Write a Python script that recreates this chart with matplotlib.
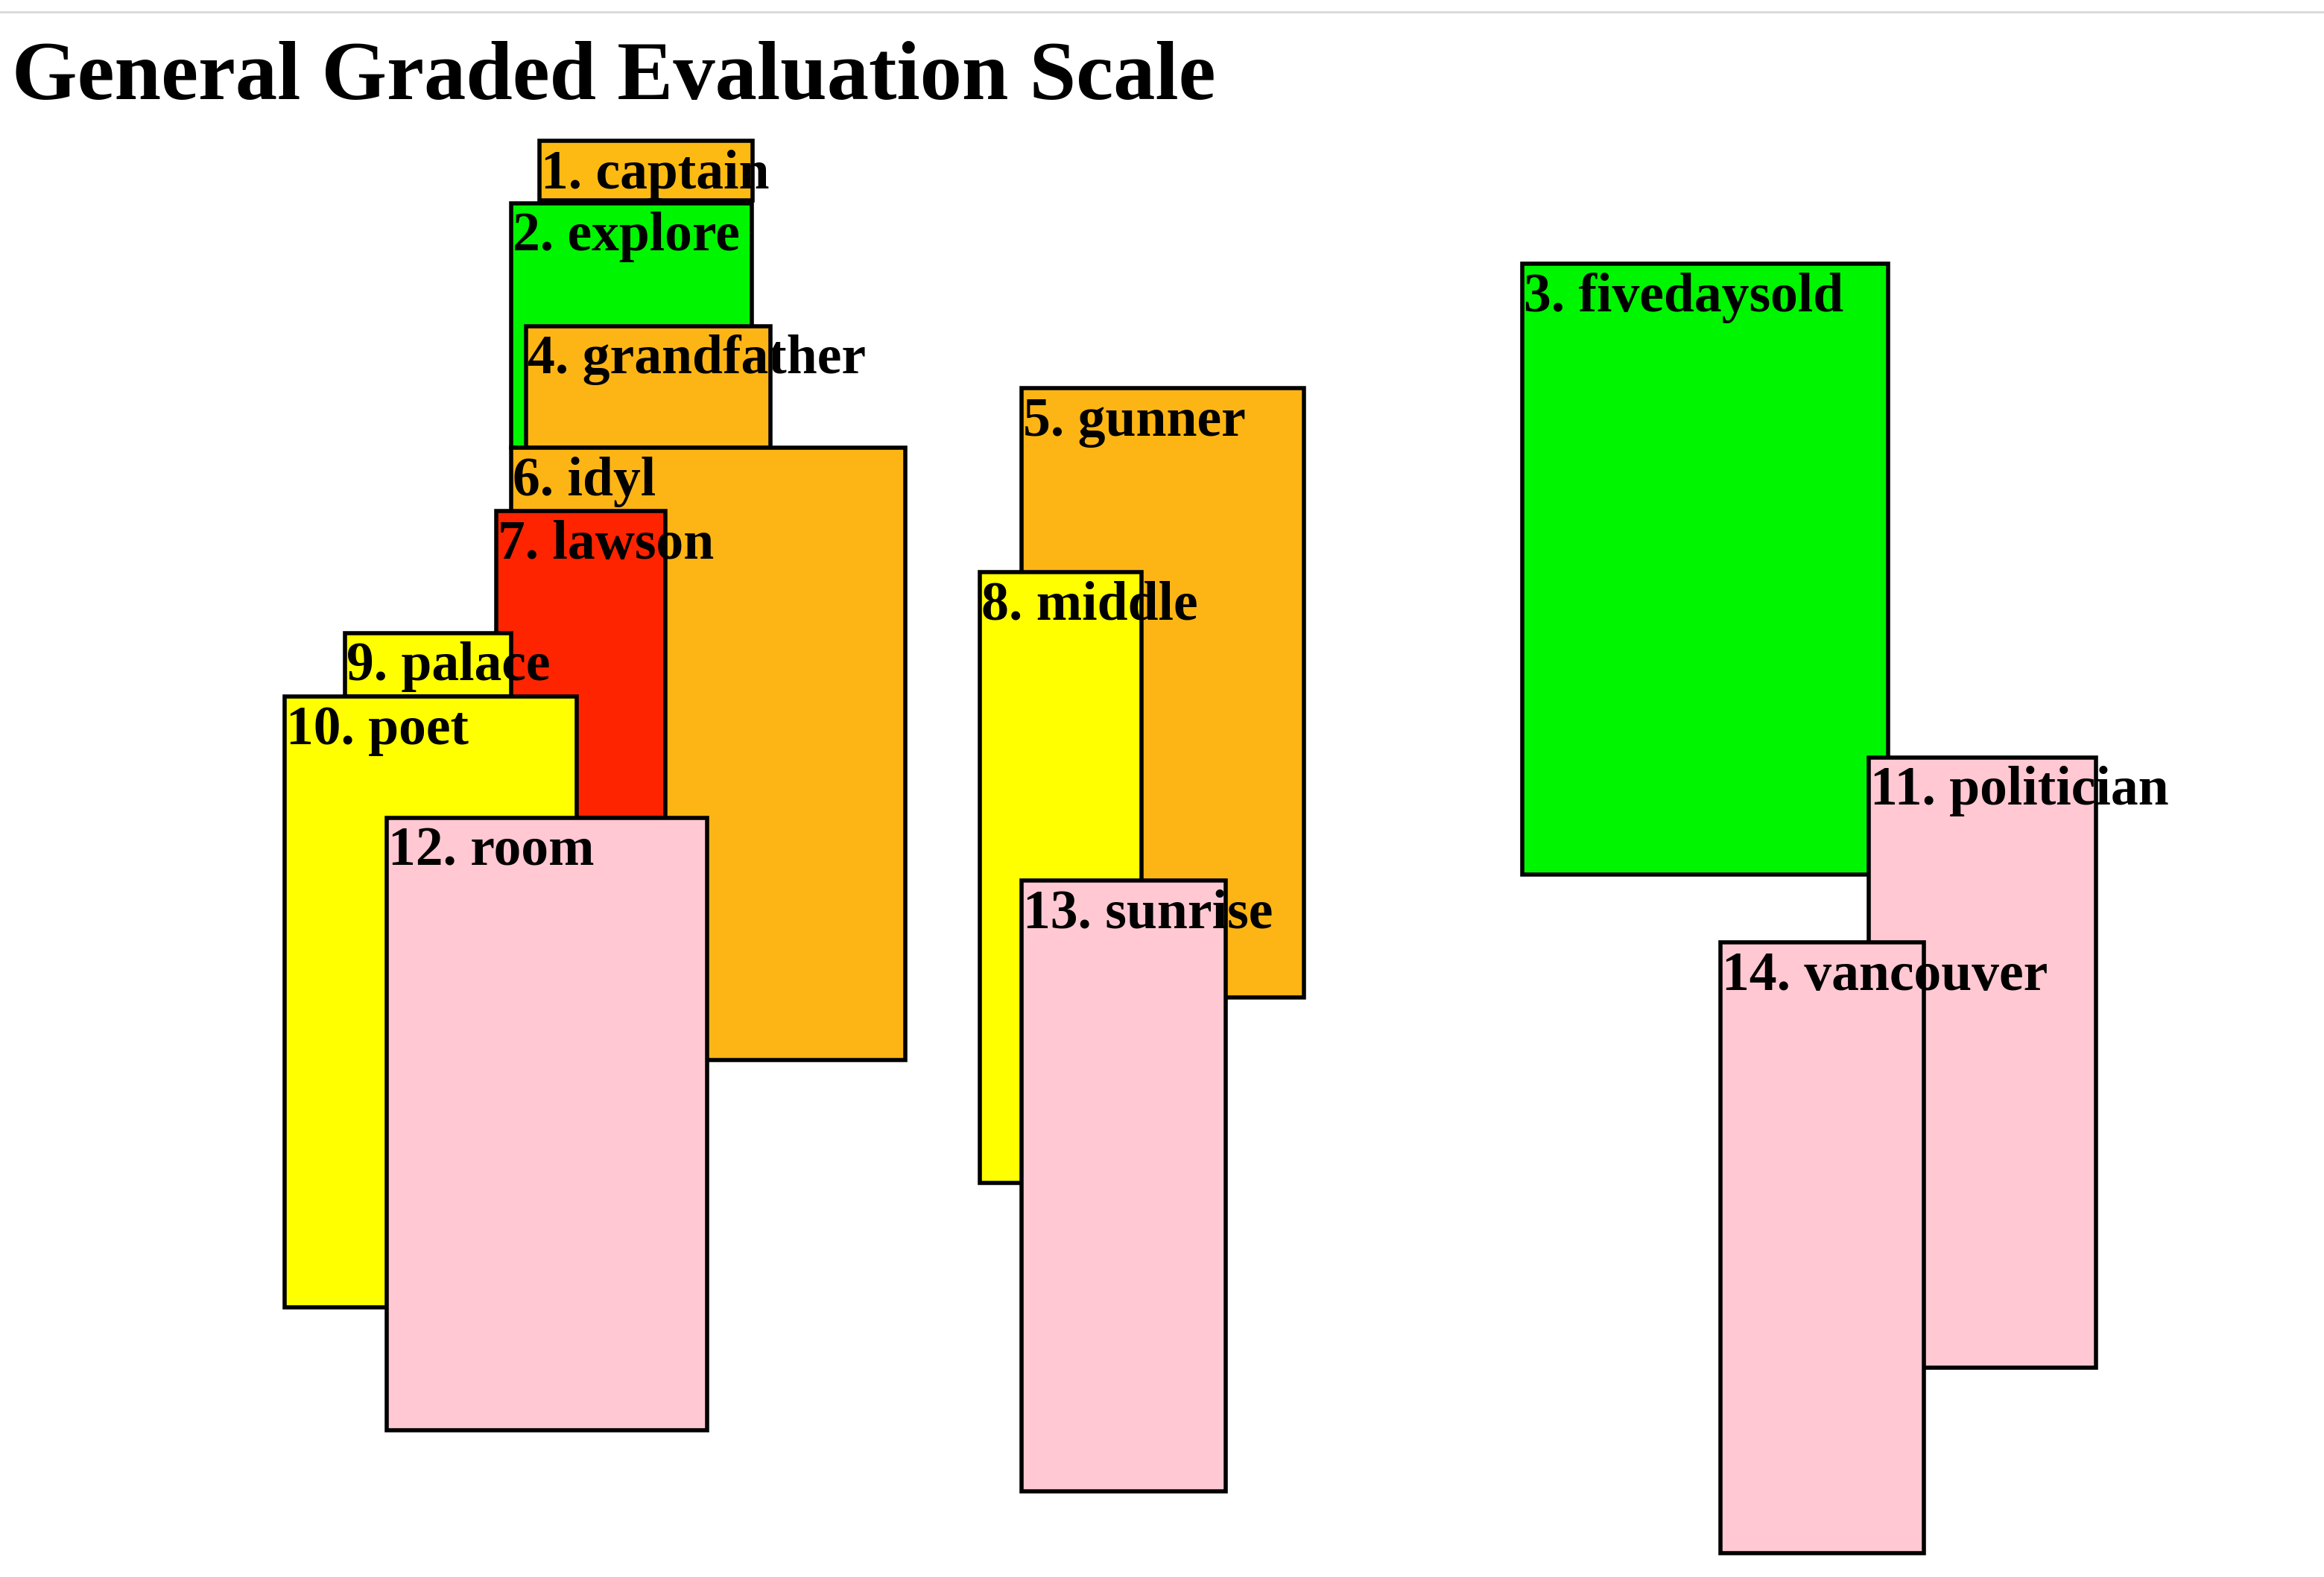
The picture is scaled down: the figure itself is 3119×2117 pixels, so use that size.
import matplotlib
matplotlib.use("Agg")
import matplotlib.pyplot as plt
from matplotlib.patches import Rectangle

labels = ["1. captain", "2. explore", "3. fivedaysold", "4. grandfather", "5. gunner", "6. idyl",
          "7. lawson", "8. middle", "9. palace", "10. poet", "11. politician", "12. room",
          "13. sunrise", "14. vancouver"]
x0 = [364, 345, 1027, 355, 689, 345, 335, 661, 233, 192, 1261, 261, 689, 1161]
y0 = [95, 137, 178, 220, 262, 302, 345, 386, 427, 470, 511, 552, 594, 636]
x1 = [508, 507, 1274, 520, 880, 611, 449, 770, 345, 389, 1414, 477, 827, 1298]
y1 = [135, 302, 590, 302, 673, 715, 552, 798, 470, 882, 923, 965, 1006, 1048]
colors = ["#FDBA12", "#00F500", "#00F500", "#FDB515", "#FDB515", "#FDB515", "#FF2400",
          "#FFFF00", "#FFFF00", "#FFFF00", "#FFC8D2", "#FFC8D2", "#FFC8D2", "#FFC8D2"]

fig = plt.figure(figsize=(31.19, 21.17), dpi=100)
ax = fig.add_axes([0, 0, 1, 1])
ax.set_xlim(0, 1568)
ax.set_ylim(1064, 0)
ax.axis("off")
ax.plot([0, 1568], [8, 8], color="#d8d8d8", lw=2)
ax.text(8, 67, "General Graded Evaluation Scale", family="Liberation Serif", fontweight="bold",
        fontsize=81, va="baseline", ha="left")
for i, lab in enumerate(labels):
    ax.add_patch(Rectangle((x0[i], y0[i]), x1[i] - x0[i], y1[i] - y0[i], facecolor=colors[i],
                           edgecolor="black", lw=4, zorder=2 * i + 1))
    ax.text(x0[i] + 1, y0[i] + 32, lab, family="Liberation Serif", fontweight="bold",
            fontsize=53, va="baseline", ha="left", zorder=2 * i + 2)
fig.savefig("out.png", dpi=100)
